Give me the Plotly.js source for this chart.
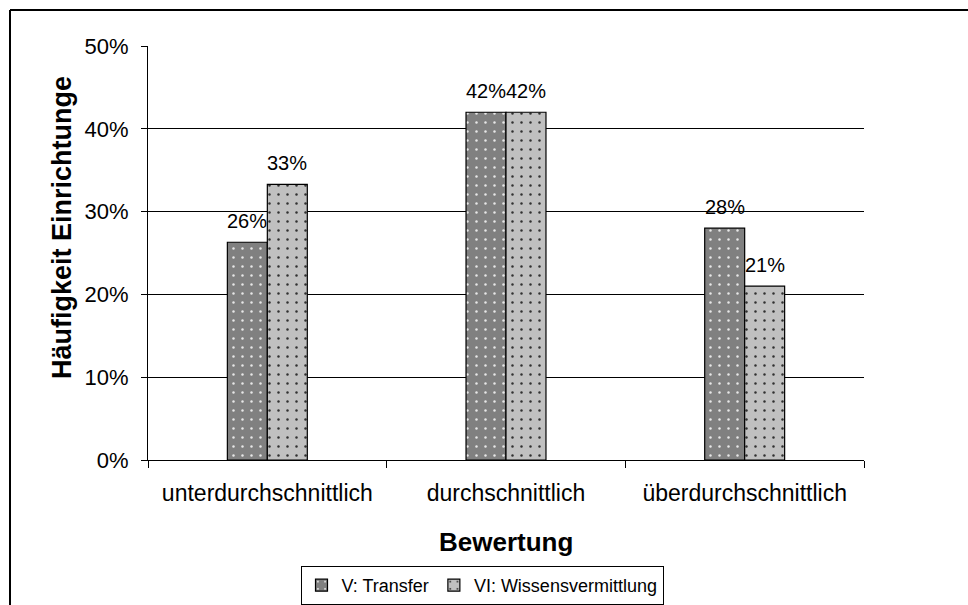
<!DOCTYPE html>
<html>
<head>
<meta charset="utf-8">
<script src="https://cdn.plot.ly/plotly-3.0.1.min.js"></script>
<style>html,body{margin:0;padding:0;background:#fff;}#chart{width:968px;height:605px;}</style>
</head>
<body>
<div id="chart"></div>
<script>
var categories = ['unterdurchschnittlich', 'durchschnittlich', 'überdurchschnittlich'];
var seriesNames = ['V: Transfer', 'VI: Wissensvermittlung'];
var transferValues = [0.263, 0.42, 0.28];
var wissenValues = [0.333, 0.42, 0.21];
var yTickVals = [0, 0.1, 0.2, 0.3, 0.4, 0.5];
var yTickText = ['0%', '10%', '20%', '30%', '40%', '50%'];
var xTitle = 'Bewertung';
var yTitle = 'Häufigkeit Einrichtunge';

var FONT = 'Liberation Sans, Arial, sans-serif';

function barTrace(name, vals, bg, fg) {
  return {
    type: 'bar',
    name: name,
    x: categories,
    y: vals,
    marker: {
      color: bg,
      line: {color: '#000', width: 1.2},
      pattern: {shape: '.', bgcolor: bg, fgcolor: fg, size: 9, solidity: 0.06, fillmode: 'replace'}
    },
    hoverinfo: 'skip'
  };
}

var data = [
  barTrace(seriesNames[0], transferValues, '#808080', '#e8e8e8'),
  barTrace(seriesNames[1], wissenValues, '#c0c0c0', '#303030')
];

var L = 148, R = 864, T = 46, B = 460;
var pw = R - L, ph = B - T;
function px(x) { return (x - L) / pw; }
function py(y) { return (B - y) / ph; }

// value labels (derived from the data arrays), offset to each bar of the group
var labelAnns = [];
[transferValues, wissenValues].forEach(function (vals, si) {
  vals.forEach(function (v, ci) {
    labelAnns.push({
      x: categories[ci], y: v, xref: 'x', yref: 'y',
      text: Math.round(v * 100) + '%',
      showarrow: false, xanchor: 'center', yanchor: 'bottom',
      xshift: si === 0 ? -20 : 20, yshift: 8,
      font: {family: FONT, size: 20, color: '#000'}
    });
  });
});

var layout = {
  width: 968, height: 605,
  margin: {l: L, r: 968 - R, t: T, b: 605 - B, autoexpand: false},
  paper_bgcolor: '#fff', plot_bgcolor: '#fff',
  font: {family: FONT, color: '#000'},
  barmode: 'group',
  bargap: 0.665,
  bargroupgap: 0,
  showlegend: true,
  legend: {
    orientation: 'h',
    x: px(482), xanchor: 'center',
    y: py(566), yanchor: 'top',
    bordercolor: '#000', borderwidth: 1,
    font: {family: FONT, size: 18, color: '#000'},
    bgcolor: '#fff',
    itemwidth: 30,
    tracegroupgap: 0
  },
  xaxis: {
    type: 'category',
    showline: true, linecolor: '#000', linewidth: 1,
    ticks: 'outside', tickson: 'boundaries', ticklen: 7, tickcolor: '#000',
    tickfont: {family: FONT, size: 23, color: '#000'},
    ticklabelstandoff: 12,
    showgrid: false, zeroline: false,
    fixedrange: true
  },
  yaxis: {
    range: [0, 0.5],
    tickvals: yTickVals, ticktext: yTickText,
    showline: true, linecolor: '#000', linewidth: 1,
    ticks: 'outside', ticklen: 6, tickcolor: '#000',
    tickfont: {family: FONT, size: 22, color: '#000'},
    ticklabelstandoff: 8,
    showgrid: true, gridcolor: '#000', gridwidth: 1,
    zeroline: false,
    fixedrange: true
  },
  annotations: labelAnns.concat([
    {text: '<b>' + yTitle + '</b>', xref: 'paper', yref: 'paper', x: px(62), y: py(228), textangle: -90,
     xanchor: 'center', yanchor: 'middle', showarrow: false, font: {family: FONT, size: 27, color: '#000'}},
    {text: '<b>' + xTitle + '</b>', xref: 'paper', yref: 'paper', x: 0.5, y: py(542),
     xanchor: 'center', yanchor: 'middle', showarrow: false, font: {family: FONT, size: 26, color: '#000'}}
  ]),
  shapes: [
    {type: 'line', xref: 'paper', yref: 'paper', x0: px(10), x1: px(10), y0: py(10), y1: py(620), line: {color: '#000', width: 2}},
    {type: 'line', xref: 'paper', yref: 'paper', x0: px(10), x1: px(980), y0: py(10), y1: py(10), line: {color: '#000', width: 2}}
  ]
};

Plotly.newPlot('chart', data, layout, {displayModeBar: false, staticPlot: true});
</script>
</body>
</html>
